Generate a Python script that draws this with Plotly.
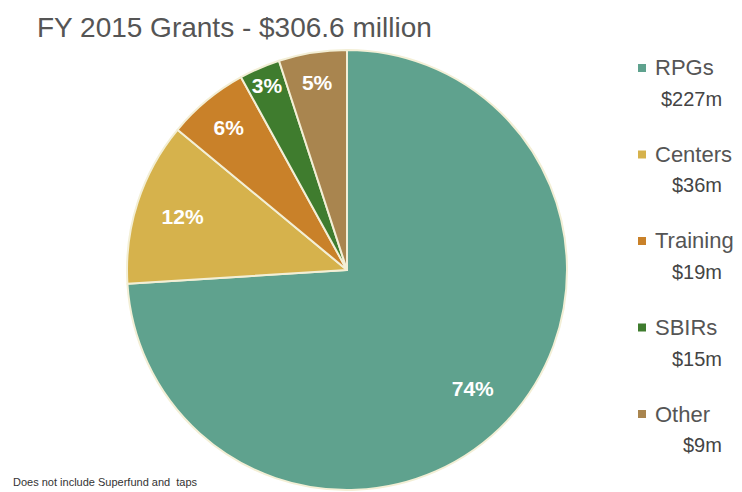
import plotly.graph_objects as go

# Data
categories = ["RPGs", "Centers", "Training", "SBIRs", "Other"]
slice_percent = [74, 12, 6, 3, 5]          # percentages shown on the slices
legend_amounts = ["$227m", "$36m", "$19m", "$15m", "$9m"]  # amounts in legend
colors = ["#5fa28e", "#d6b24c", "#c98129", "#3f7c2e", "#a9854f"]

W, H = 742, 492

def px(x):
    return x / W

def py(y):
    return 1 - y / H

dom = dict(x=[px(127), px(567)], y=[py(490), py(50)])

fig = go.Figure()
fig.add_trace(go.Pie(
    labels=categories,
    values=slice_percent,
    textinfo="none",
    marker=dict(colors=colors, line=dict(color="#f3efd6", width=2)),
    sort=False, direction="clockwise", rotation=0,
    showlegend=False, hoverinfo="label+value",
    domain=dom,
))
# transparent ring that carries the percentage labels further out
fig.add_trace(go.Pie(
    labels=categories,
    values=slice_percent,
    hole=0.57,
    text=[f"{v}%" for v in slice_percent],
    textinfo="text",
    texttemplate="<b>%{text}</b>",
    textposition="inside",
    insidetextorientation="horizontal",
    textfont=dict(family="Liberation Sans, Arial", size=21, color="white"),
    marker=dict(colors=["rgba(0,0,0,0)"] * len(categories), line=dict(width=0)),
    sort=False, direction="clockwise", rotation=0,
    showlegend=False, hoverinfo="skip",
    domain=dom,
))

annotations = [
    dict(text="FY 2015 Grants - $306.6 million", x=px(35), y=py(27), xref="paper", yref="paper",
         xanchor="left", yanchor="middle", showarrow=False,
         font=dict(family="Liberation Sans, Arial", size=28, color="#555555")),
    dict(text="Does not include Superfund and  taps", x=px(11), y=py(482), xref="paper", yref="paper",
         xanchor="left", yanchor="middle", showarrow=False,
         font=dict(family="Liberation Sans Narrow, Liberation Sans, Arial", size=11, color="#333333")),
]
shapes = []
y0, dy = 68, 86.5
for i, (cat, amt, col) in enumerate(zip(categories, legend_amounts, colors)):
    yc = y0 + i * dy
    shapes.append(dict(type="rect", xref="paper", yref="paper",
                       x0=px(638), x1=px(646), y0=py(yc + 4), y1=py(yc - 4),
                       fillcolor=col, line=dict(width=0)))
    annotations.append(dict(text=cat, x=px(653), y=py(yc), xref="paper", yref="paper",
                            xanchor="left", yanchor="middle", showarrow=False,
                            font=dict(family="Liberation Sans, Arial", size=22, color="#555555")))
    annotations.append(dict(text=amt, x=px(724), y=py(yc + 31), xref="paper", yref="paper",
                            xanchor="right", yanchor="middle", showarrow=False,
                            font=dict(family="Liberation Sans, Arial", size=20, color="#444444")))

fig.update_layout(
    width=W, height=H,
    margin=dict(l=0, r=0, t=0, b=0),
    paper_bgcolor="white", plot_bgcolor="white",
    annotations=annotations, shapes=shapes,
    uniformtext=dict(minsize=21, mode="show"),
)
fig.write_html("out.html", config={"displayModeBar": False})

# remove the default page margin so the figure fills the window exactly
with open("out.html", "r", encoding="utf-8") as f:
    html = f.read()
html = html.replace("<head>", "<head><style>body{margin:0;padding:0;overflow:hidden;}</style>", 1)
with open("out.html", "w", encoding="utf-8") as f:
    f.write(html)
